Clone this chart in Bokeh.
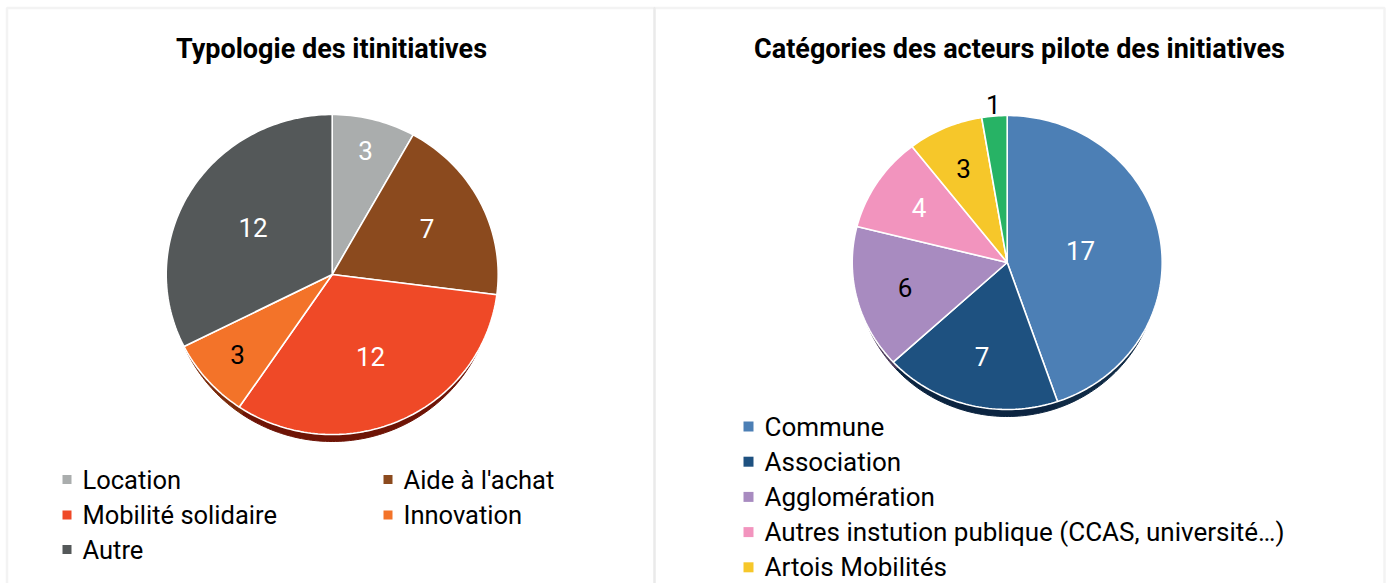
import numpy as np
from bokeh.plotting import figure
from bokeh.models import Range1d, BoxAnnotation, ColumnDataSource
from bokeh.embed import file_html
from bokeh.resources import INLINE
from bokeh.core.properties import value

# ---------------- data ----------------
left_title = "Typologie des itinitiatives"
left_cats = ["Location", "Aide à l'achat", "Mobilité solidaire", "Innovation", "Autre"]
left_vals = [3, 7, 12, 3, 12]
left_colors = ["#AAADAD", "#8B4A1E", "#EF4927", "#F37329", "#545859"]
left_shadow = ["#5a5c5c", "#4a2710", "#6e1406", "#7a2a0a", "#2b2d2d"]
left_label_colors = ["white", "white", "white", "black", "white"]

right_title = "Catégories des acteurs pilote des initiatives"
right_cats = ["Commune", "Association", "Agglomération",
              "Autres instution publique (CCAS, université…)", "Artois Mobilités", "Autres"]
right_vals = [17, 7, 6, 4, 3, 1]
right_colors = ["#4C7FB5", "#1E5180", "#A88BC0", "#F294BE", "#F6C72A", "#27B365"]
right_shadow = ["#0f2a45", "#0b2440", "#4a3a58", "#6a3a50", "#6a5510", "#0f5a30"]
right_label_colors = ["white", "white", "black", "white", "black", "black"]

# ---------------- layout / style ----------------
W, H = 1389, 583
FONT = "Roboto"
left_label_r = [0.80, 0.64, 0.56, 0.76, 0.56]
right_label_r = [0.48, 0.66, 0.68, 0.68, 0.70, 1.08]
RIGHT_LEGEND_VISIBLE = 5  # the last legend row lies below the visible window


def sy(y):
    """screen y (from top) to data y"""
    return H - y


p = figure(width=W, height=H, x_range=Range1d(0, W), y_range=Range1d(0, H),
           min_border=0, toolbar_location=None, output_backend="svg",
           x_axis_type=None, y_axis_type=None)
p.grid.visible = False
p.outline_line_color = None
p.background_fill_color = "white"
p.border_fill_color = "white"

# panel frames
for l, r in [(6.5, 654), (654, 1384)]:
    p.add_layout(BoxAnnotation(left=l, right=r, top=sy(7.5), bottom=-20,
                               fill_alpha=0, line_color="#d6d6d6", line_width=2.5))


def draw_pie(cats, vals, colors, shadow, label_colors, label_r, cx, cy, rx, ry, soff):
    v = np.asarray(vals, float)
    cum = np.concatenate([[0.0], np.cumsum(v / v.sum())])
    xs, ys, sxs, sys_ = [], [], [], []
    lx, ly = [], []
    for i, (a, b) in enumerate(zip(cum[:-1], cum[1:])):
        t = np.linspace(a, b, max(10, int(300 * (b - a))))
        ang = np.pi / 2 - 2 * np.pi * t
        px = np.concatenate([[cx], cx + rx * np.cos(ang)])
        py = np.concatenate([[cy], cy + ry * np.sin(ang)])
        xs.append(px)
        ys.append(py)
        sxs.append(np.concatenate([[cx], cx + 0.975 * rx * np.cos(ang)]))
        sys_.append(py - soff)
        m = np.pi / 2 - 2 * np.pi * (a + b) / 2
        lx.append(cx + label_r[i] * rx * np.cos(m))
        ly.append(cy + label_r[i] * ry * np.sin(m))
    p.patches(sxs, sys_, fill_color=shadow, line_color=shadow, line_width=1)
    src = ColumnDataSource(dict(xs=xs, ys=ys, color=colors, cat=cats))
    p.patches("xs", "ys", source=src, fill_color="color", line_color="white", line_width=1.6)
    p.text(lx, ly, text=[str(x) for x in vals], text_color=label_colors,
           text_font=value(FONT), text_font_size="26px",
           text_align="center", text_baseline="middle")


draw_pie(left_cats, left_vals, left_colors, left_shadow, left_label_colors, left_label_r,
         331.7, sy(274), 166, 160, 7)
draw_pie(right_cats, right_vals, right_colors, right_shadow, right_label_colors, right_label_r,
         1006.7, sy(262), 155, 147, 7)

# titles
p.text([331], [sy(48)], text=[left_title], text_font=value(FONT), text_font_style="bold",
       text_font_size="27px", text_align="center", text_baseline="middle", text_color="black")
p.text([1019], [sy(48)], text=[right_title], text_font=value(FONT), text_font_style="bold",
       text_font_size="27px", text_align="center", text_baseline="middle", text_color="black")

# legend left (2 columns)
col_x = [62, 383]
row_y = [479, 514.5, 549]
lgx = [col_x[i % 2] for i in range(len(left_cats))]
lgy = [sy(row_y[i // 2]) for i in range(len(left_cats))]
p.rect([x + 4.5 for x in lgx], lgy, width=9, height=9, width_units="screen",
       height_units="screen", fill_color=left_colors, line_color=None)
p.text([x + 20 for x in lgx], lgy, text=left_cats, text_font=value(FONT),
       text_font_size="25.5px", text_align="left", text_baseline="middle", text_color="black")

# legend right (1 column)
n = RIGHT_LEGEND_VISIBLE
rgx = [743] * n
rgy = [sy(426 + 35.2 * i) for i in range(n)]
p.rect([x + 5 for x in rgx], rgy, width=10, height=10, width_units="screen",
       height_units="screen", fill_color=right_colors[:n], line_color=None)
p.text([x + 21 for x in rgx], rgy, text=right_cats[:n], text_font=value(FONT),
       text_font_size="26px", text_align="left", text_baseline="middle", text_color="black")

open("out.html", "w").write(file_html(p, INLINE))
